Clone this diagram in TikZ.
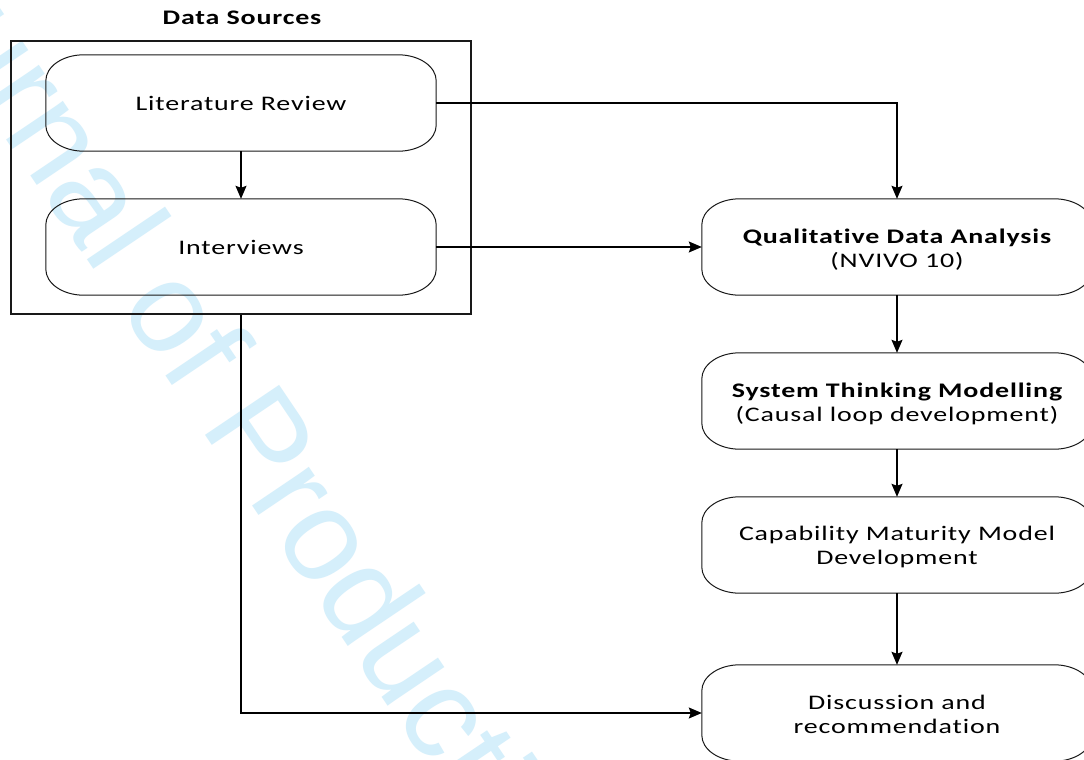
\documentclass[tikz,border=0pt]{standalone}
\usepackage{fontspec}
\setmainfont{Carlito}[FakeStretch=1.35, LetterSpace=4, Ligatures=NoCommon]
\newfontfamily\wmfont{Liberation Sans}
\usetikzlibrary{arrows.meta,calc}
\definecolor{wmblue}{RGB}{213,239,251}
\definecolor{lineblack}{RGB}{25,25,25}
\tikzset{
  boxnode/.style={minimum width=390pt, minimum height=96pt, inner sep=0pt, align=center,
    font=\fontsize{20.7}{24}\selectfont},
  boxtext/.style={inner sep=0pt, align=center, font=\fontsize{20.7}{24}\selectfont},
  boxline/.style={draw=lineblack, line width=1pt},
  arr/.style={draw=black, line width=1.4pt, -{Stealth[length=13pt,width=11pt,inset=2pt]}},
  framebox/.style={draw=lineblack, line width=1.2pt, minimum width=460pt, minimum height=273pt, inner sep=0pt},
  titletext/.style={font=\bfseries\fontsize{20.7}{24}\selectfont, inner sep=0pt},
  watermark/.style={font=\wmfont\fontsize{130}{130}\selectfont, text=wmblue, inner sep=0pt, rotate=-56, anchor=base west}
}
\newcommand\ellbox[1]{%
  \draw[boxline] ([xshift=38pt]#1.north west) -- ([xshift=-38pt]#1.north east)
    arc[start angle=90,end angle=0,x radius=38pt,y radius=26pt]
    -- ([yshift=26pt]#1.south east)
    arc[start angle=0,end angle=-90,x radius=38pt,y radius=26pt]
    -- ([xshift=38pt]#1.south west)
    arc[start angle=270,end angle=180,x radius=38pt,y radius=26pt]
    -- ([yshift=-26pt]#1.north west)
    arc[start angle=180,end angle=90,x radius=38pt,y radius=26pt]
    -- cycle;}
\begin{document}
\begin{tikzpicture}[x=1pt,y=-1pt]
\useasboundingbox (0,0) rectangle (1084,760);
\clip (0,0) rectangle (1084,760);
\fill[white] (0,0) rectangle (1084,760);
% watermark
\node[watermark] (wm) at (-140,-77) {Journal of Producti};
% title and frame
\node[titletext] (title) at (242,18) {Data Sources};
\node[framebox] (src) at (241,177.5) {};
% boxes
\node[boxnode] (lit) at (241,103) {Literature Review};
\node[boxnode] (int) at (241,247) {Interviews};
\node[boxnode] (qda) at (897,247) {};
\node[boxnode] (stm) at (897,401) {};
\node[boxnode] (cmm) at (897,545) {};
\node[boxnode] (dis) at (897,713) {};
\node[boxtext] (qdaT) at ([yshift=-3pt]qda.center) {{\bfseries Qualitative Data Analysis}\\(NVIVO 10)};
\node[boxtext] (stmT) at ([yshift=-3pt]stm.center) {{\bfseries System Thinking Modelling}\\(Causal loop development)};
\node[boxtext] (cmmT) at ([yshift=-2pt]cmm.center) {Capability Maturity Model\\Development};
\node[boxtext] (disT) at ([yshift=-1pt]dis.center) {Discussion and\\recommendation};
\ellbox{lit}
\ellbox{int}
\ellbox{qda}
\ellbox{stm}
\ellbox{cmm}
\ellbox{dis}
% connectors
\draw[arr] (lit.south) -- (int.north);
\draw[arr] (lit.east) -| (qda.north);
\draw[arr] (int.east) -- (int.east -| qda.west);
\draw[arr] (qda.south) -- (stm.north);
\draw[arr] (stm.south) -- (cmm.north);
\draw[arr] (cmm.south) -- (dis.north);
\draw[arr] (src.south) |- (dis.west);
\end{tikzpicture}
\end{document}
